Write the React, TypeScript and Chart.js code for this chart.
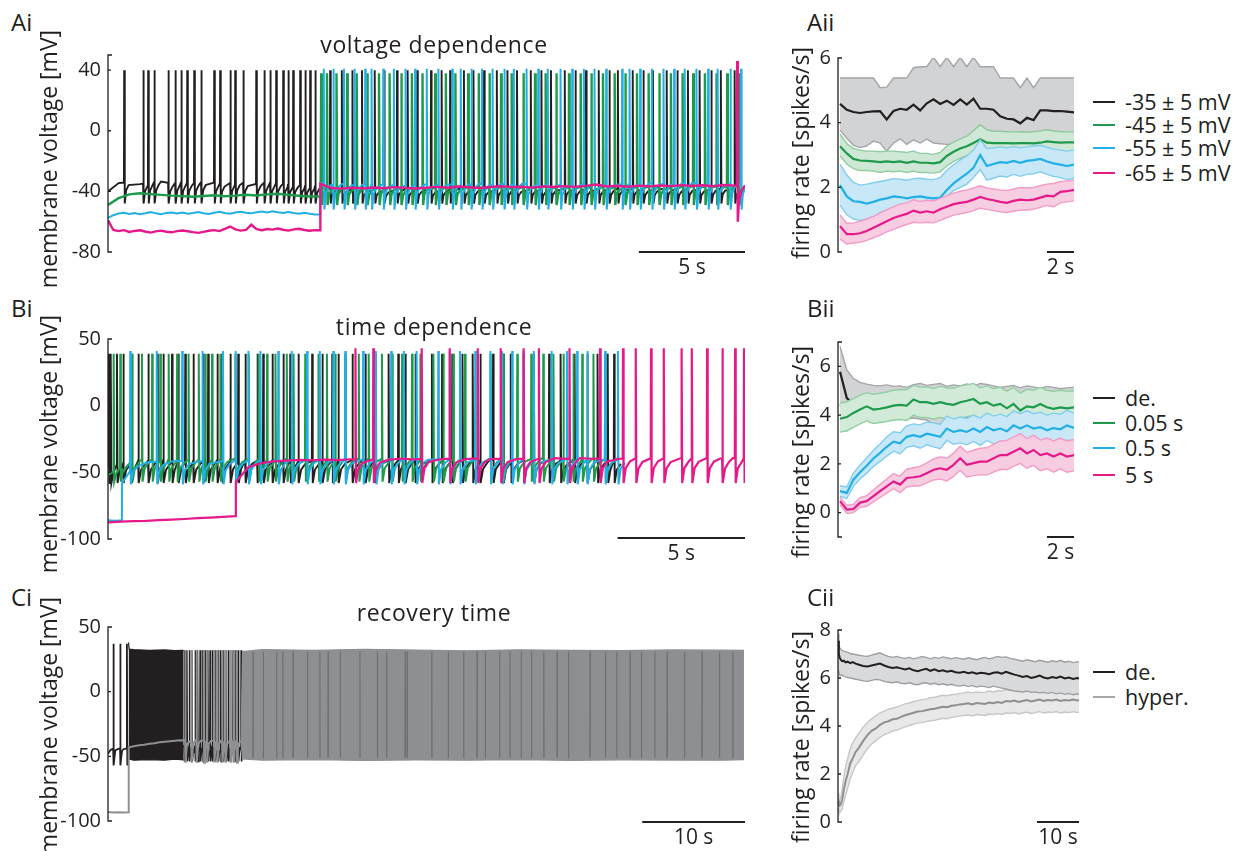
import React, { useEffect, useRef } from "react";
import { Chart, registerables } from "chart.js";

Chart.register(...registerables);

const FONT = '"Open Sans", sans-serif';
const INK = "#231f20";
const GREEN = "#1d9a4b";
const CYAN = "#22afe6";
const MAGENTA = "#e6198b";
const GREY = "#8d8f92";

// ---------------- Ai : voltage dependence (traces) ----------------
const AI_PRE_DT_BG = 0.5; // black / green baseline sample step (s)
const AI_PRE_DT_CM = 0.25; // cyan / magenta baseline sample step (s)
const AI_POST_T0 = 10.0;
const AI_POST_DT = 0.5;
const AI_BLACK_PRE = [-40, -34.5, -33.8, -35.2, -34.0, -33.5, -34.8, -33.9, -34.6, -33.7, -34.2, -35.0, -33.8, -34.5, -35.1, -34.0, -34.7, -35.3, -35.8, -36.2];
const AI_GREEN_PRE = [-49, -44.5, -42, -41.2, -41.8, -42.3, -42.8, -43.1, -43.5, -43.0, -42.6, -43.2, -42.8, -42.2, -42.7, -42.0, -41.6, -42.3, -42.9, -43.4];
const AI_CYAN_PRE = [-57.5, -55.7, -54.6, -54.1, -54.9, -54.3, -55.0, -54.4, -53.7, -54.5, -55.1, -54.2, -53.9, -54.6, -54.0, -54.8, -54.3, -53.6, -54.4, -54.9, -54.1, -53.5, -54.3, -54.7, -54.0, -53.4, -54.1, -54.5, -53.8, -53.3, -53.9, -53.1, -53.7, -54.3, -53.6, -54.2, -54.7, -54.1, -54.8, -55.3];
const AI_MAG_PRE = [-59, -65.5, -66.2, -65.6, -66.8, -66.1, -65.7, -66.5, -67.2, -66.4, -65.9, -66.6, -67.0, -66.2, -65.8, -66.3, -66.9, -67.4, -66.7, -66.0, -65.6, -66.2, -64.8, -63.2, -65.1, -65.9, -65.4, -62.0, -64.9, -65.6, -64.8, -65.2, -64.5, -65.3, -65.9, -65.1, -64.7, -65.5, -66.0, -65.6];
const AI_BLACK_POST = [-36.0, -38.5, -39.2, -38.6, -39.4, -38.8, -39.6, -39.0, -38.4, -39.2, -38.7, -39.5, -38.9, -38.3, -39.1, -38.6, -39.3, -38.8, -38.2, -39.0, -38.5, -39.2, -38.7, -38.1, -38.9, -38.4, -39.1, -38.6, -38.0, -38.8, -38.3, -39.0, -38.5, -38.0, -38.7, -38.2, -38.9, -38.4, -37.9, -38.6, -38.2];
const AI_GREEN_POST = [-36.5, -37.8, -37.2, -38.0, -37.4, -37.9, -37.1, -37.7, -38.2, -37.5, -37.0, -37.8, -37.3, -37.9, -37.2, -36.8, -37.6, -37.1, -37.7, -37.0, -37.5, -36.9, -37.4, -37.8, -37.1, -36.7, -37.3, -36.9, -37.5, -36.8, -37.2, -36.6, -37.1, -37.6, -36.9, -36.5, -37.0, -36.7, -37.2, -36.6, -36.9];
const AI_CYAN_POST = [-34.5, -35.8, -35.2, -36.0, -35.4, -35.9, -35.1, -35.7, -36.2, -35.5, -35.0, -35.8, -35.3, -35.9, -35.2, -34.8, -35.6, -35.1, -35.7, -35.0, -35.5, -34.9, -35.4, -35.8, -35.1, -34.7, -35.3, -34.9, -35.5, -34.8, -35.2, -34.6, -35.1, -35.6, -34.9, -34.5, -35.0, -34.7, -35.2, -34.6, -34.9];
const AI_MAG_POST = [-35.0, -37.8, -38.2, -37.6, -38.0, -37.4, -37.9, -37.2, -37.7, -38.1, -37.5, -37.0, -37.6, -36.8, -37.3, -37.8, -37.1, -36.6, -37.2, -36.9, -37.5, -36.7, -37.1, -36.5, -37.0, -36.4, -35.5, -36.8, -36.3, -36.9, -36.2, -36.7, -36.1, -36.5, -35.9, -36.4, -36.0, -36.6, -35.8, -36.2, -36.0];
const AI_BLACK_SPIKES = [0.75, 1.65, 1.88, 2.17, 2.83, 3.16, 3.44, 3.72, 4.05, 4.38, 4.99, 5.27, 5.75, 5.98, 6.36, 6.97, 7.35, 7.63, 7.91, 8.24, 8.48, 8.71, 9.04, 9.28, 9.51, 9.75, 10.45, 11.0, 11.5, 11.95, 12.55, 13.0, 13.6, 14.1, 14.55, 15.2, 15.7, 16.1, 16.75, 17.2, 17.7, 18.3, 18.8, 19.25, 19.9, 20.4, 20.85, 21.5, 22.0, 22.5, 23.1, 23.6, 24.0, 24.7, 25.2, 25.65, 26.3, 26.8, 27.3, 27.85, 28.4, 28.85, 29.5];
const AI_GREEN_SPIKES = [10.03, 10.3, 10.75, 11.25, 11.7, 12.2, 12.75, 13.25, 13.8, 14.3, 14.8, 15.4, 15.9, 16.35, 16.95, 17.45, 17.95, 18.5, 19.0, 19.55, 20.1, 20.6, 21.1, 21.7, 22.25, 22.75, 23.3, 23.85, 24.35, 24.9, 25.45, 25.95, 26.5, 27.05, 27.55, 28.1, 28.65, 29.15, 29.7];
const AI_CYAN_SPIKES = [10.15, 10.6, 11.1, 11.6, 12.1, 12.4, 12.95, 13.45, 14.0, 14.45, 15.0, 15.55, 16.2, 16.6, 17.1, 17.6, 18.1, 18.65, 19.1, 19.7, 20.25, 20.7, 21.3, 21.85, 22.4, 22.9, 23.45, 24.2, 24.55, 25.05, 25.6, 26.15, 26.65, 27.15, 27.7, 28.25, 28.7, 29.3, 29.8];
const AI_MAG_SPIKES = [29.62];
const AI_Y_TICKS = [40, 0, -40, -80];

// ---------------- Bi : time dependence (traces) ----------------
const BI_BLACK_BASE = [-46, -41.5, -41.0, -41.8, -41.2, -40.6, -41.4, -40.9, -41.6, -41.1, -40.5, -41.3, -40.8, -41.5, -41.0, -40.4, -41.2, -40.7, -41.4, -40.9, -41.3];
const BI_GREEN_BASE = [-52, -40.5, -40.0, -40.8, -40.2, -39.6, -40.4, -39.9, -40.6, -40.1, -39.5, -40.3, -39.8, -40.5, -40.0, -39.4, -40.2, -39.7, -40.4, -39.9, -40.3];
const BI_CYAN_HYP = [-86, -86.4, -86.1];
const BI_CYAN_BASE = [-58, -44, -42.5, -42, -41.6, -41.2, -41.8, -41.0, -41.5, -40.8, -41.3, -40.6, -41.1, -40.5, -41.0, -40.4, -40.9, -40.3, -40.8, -40.2, -40.7, -40.1, -40.6, -40.0, -40.5, -40.1, -40.6, -40.0, -40.4, -39.9, -40.5, -40.0, -40.4, -39.8, -40.3, -39.9, -40.4, -39.8, -40.2, -39.9];
const BI_MAG_HYP = [-87.5, -87, -86.6, -86.4, -85.8, -85.4, -85, -84.4, -84, -83.4, -82.8];
const BI_MAG_BASE = [-57, -46, -43, -41.8, -41.2, -40.6, -41.0, -40.4, -40.8, -40.2, -40.6, -40.0, -40.5, -39.8, -40.3, -39.7, -40.2, -39.6, -40.1, -39.5, -40.0, -39.6, -40.1, -39.5, -39.9, -39.4, -39.9, -39.3, -39.8, -39.4, -39.9, -39.3, -39.7, -39.2, -39.8, -39.3, -39.7, -39.2, -39.6, -39.3, -39.5];
const BI_BLACK_SPIKES = [0.02, 0.06, 0.1, 0.34, 0.59, 0.9, 1.18, 1.57, 1.92, 2.16, 2.5, 2.75, 3.02, 3.34, 3.73, 3.92, 4.28, 4.47, 4.79, 5.1, 5.38, 5.85, 6.08, 6.44, 6.87, 7.14, 7.46, 8.0, 8.4, 8.79, 9.03, 9.58, 10.09, 10.48, 11.0, 11.38, 11.66, 12.05, 12.7, 13.1, 13.5, 13.9, 14.3, 14.6, 15.1, 15.5, 15.8, 16.3, 16.7, 17.3, 17.75, 18.3, 18.8, 19.2, 19.6, 19.85];
const BI_GREEN_SPIKES = [0.21, 0.47, 0.93, 1.32, 1.72, 2.04, 2.37, 2.7, 3.15, 3.55, 3.81, 4.07, 4.4, 4.99, 5.51, 5.9, 6.23, 6.56, 7.01, 7.27, 7.73, 8.25, 8.58, 8.91, 9.3, 9.83, 10.22, 10.74, 11.14, 11.53, 11.92, 12.25, 12.76, 13.15, 13.54, 14.0, 14.5, 15.0, 15.5, 16.05, 16.6, 17.07, 17.47, 17.86, 18.25, 18.6, 19.04, 19.5];
const BI_CYAN_SPIKES = [0.86, 1.9, 2.9, 3.7, 4.5, 5.0, 5.5, 5.97, 6.67, 7.2, 7.8, 8.3, 8.83, 9.3, 10.0, 10.5, 11.1, 11.6, 12.1, 12.95, 13.4, 13.8, 14.4, 15.0, 15.45, 15.85, 16.3, 16.7, 17.4, 18.0, 18.4, 18.8, 19.5, 20.0];
const BI_MAG_SPIKES = [9.7, 10.4, 12.3, 13.4, 14.5, 15.4, 16.3, 16.9, 18.1, 19.3, 20.2, 20.7, 21.3, 21.8, 22.5, 22.9, 23.5, 24.1, 24.6, 24.95];
const BI_Y_TICKS = [50, 0, -50, -100];

// ---------------- Ci : recovery time (traces) ----------------
const CI_BLACK_PRE = [-48, -45, -44, -43.5, -44.2, -43.8, -44.5, -44.0, -43.6];
const CI_BLACK_PRE_SPIKES = [0.52, 1.17, 1.82];
const CI_BLACK_ENV_T = [2.0, 2.06, 2.5, 4, 5.5, 6.5, 7.35];
const CI_BLACK_ENV_TOP = [38, 33, 32.5, 32, 32.3, 31.8, 32];
const CI_BLACK_ENV_BOT = [-42, -52, -53, -52.5, -53, -52.2, -52.8];
const CI_BLACK_MID = [-42, -41.5, -42.2, -41.8, -42.5, -41.6, -42.0, -41.7, -42.3, -41.9, -42.1, -41.6, -42.0];
const CI_BLACK_MID_SPIKES = [7.4, 7.66, 7.9, 8.15, 8.47, 8.7, 8.95, 9.2, 9.44, 9.7, 9.92, 10.15, 10.41, 10.7, 10.95, 11.19, 11.45, 11.68, 11.9, 12.16, 12.4, 12.65, 12.94];
const CI_GREY_HYP = [-93, -93.4, -93.2, -93.5, -93.3];
const CI_GREY_BASE = [-43, -42.2, -41.5, -41.0, -40.3, -39.8, -39.2, -38.8, -38.4, -38.0, -37.6, -37.8, -38.2, -37.5, -38, -37.6, -38.1, -37.7, -38.0, -37.6, -37.8, -37.5, -38.0];
const CI_GREY_SPIKES = [7.5, 8.1, 8.6, 9.3, 9.6, 10.3, 10.6, 11.1, 11.4, 11.9, 12.2, 12.5];
const CI_GREY_ENV_T = [12.95, 13.1, 15, 20, 25, 30, 35, 40, 45, 50, 55, 60, 61.9];
const CI_GREY_ENV_TOP = [-38, 31, 32.5, 32, 32.8, 32.2, 31.6, 32.4, 32, 31.8, 32.3, 32.1, 31.9];
const CI_GREY_ENV_BOT = [-38, -52, -53, -52.5, -53.2, -52.8, -53, -52.6, -53.1, -52.7, -52.9, -53, -52.5];
const CI_DARK_SPIKES = [14.1, 15.1, 16.4, 17.0, 18.0, 19.4, 20.6, 21.4, 22.6, 24.5, 26.2, 27.1, 28.9, 29.1, 31.5, 33.1, 34.6, 35.9, 36.7, 38.1, 39.1, 40.2, 41.2, 42.4, 43.7, 44.8, 46.9, 48.4, 49.5, 50.8, 51.9, 53.2, 54.4, 56.1, 57.8, 59.5, 60.8];
const CI_Y_TICKS = [50, 0, -50, -100];

// ---------------- Aii / Bii : firing rates ----------------
const T_RATE = [0.15, 0.65, 1.14, 1.63, 2.12, 2.62, 3.11, 3.6, 4.1, 4.59, 5.08, 5.58, 6.07, 6.56, 7.06, 7.55, 8.04, 8.54, 9.03, 9.52, 10.01, 10.51, 11.0, 11.49, 11.99, 12.48, 12.97, 13.47, 13.96, 14.45, 14.95, 15.44, 15.93, 16.43, 16.92, 17.44];
const AII_BLACK = [4.58, 4.40, 4.33, 4.30, 4.33, 4.35, 4.36, 4.10, 4.36, 4.43, 4.40, 4.56, 4.38, 4.60, 4.72, 4.58, 4.68, 4.55, 4.72, 4.56, 4.74, 4.43, 4.43, 4.40, 4.20, 4.12, 4.10, 3.98, 4.15, 4.08, 4.38, 4.38, 4.36, 4.36, 4.34, 4.32];
const AII_BLACK_HI = [5.38, 5.38, 5.38, 5.38, 5.38, 5.38, 5.08, 5.10, 5.38, 5.38, 5.38, 5.70, 5.73, 5.73, 6.02, 5.73, 6.02, 5.73, 6.02, 5.73, 6.02, 5.73, 5.73, 5.73, 5.38, 5.38, 5.38, 5.08, 5.38, 5.08, 5.38, 5.38, 5.38, 5.38, 5.38, 5.38];
const AII_BLACK_LO = [3.77, 3.52, 3.30, 3.23, 3.28, 3.43, 3.37, 3.12, 3.37, 3.50, 3.33, 3.47, 3.37, 3.49, 3.37, 3.35, 3.33, 3.33, 3.45, 3.58, 3.75, 3.93, 3.78, 3.73, 3.73, 3.72, 3.72, 3.72, 3.70, 3.72, 3.74, 3.78, 3.74, 3.72, 3.72, 3.72];
const AII_GREEN = [3.27, 3.05, 2.88, 2.83, 2.82, 2.80, 2.78, 2.80, 2.78, 2.80, 2.76, 2.80, 2.76, 2.76, 2.74, 2.78, 2.97, 3.10, 3.20, 3.27, 3.37, 3.49, 3.38, 3.37, 3.37, 3.37, 3.36, 3.37, 3.37, 3.36, 3.38, 3.42, 3.40, 3.38, 3.39, 3.39];
const AII_GREEN_HI = [3.65, 3.35, 3.20, 3.15, 3.12, 3.12, 3.10, 3.12, 3.12, 3.10, 3.08, 3.12, 3.05, 3.05, 3.02, 3.08, 3.28, 3.40, 3.50, 3.58, 3.75, 3.93, 3.78, 3.73, 3.73, 3.72, 3.72, 3.72, 3.70, 3.72, 3.74, 3.78, 3.74, 3.72, 3.72, 3.72];
const AII_GREEN_LO = [2.97, 2.72, 2.58, 2.52, 2.52, 2.50, 2.46, 2.50, 2.48, 2.50, 2.46, 2.50, 2.46, 2.46, 2.44, 2.48, 2.66, 2.80, 2.90, 2.98, 3.08, 3.20, 3.05, 3.02, 3.02, 3.02, 3.00, 3.02, 3.02, 3.00, 3.04, 3.08, 3.06, 3.04, 3.05, 3.06];
const AII_CYAN = [2.07, 1.72, 1.57, 1.55, 1.50, 1.55, 1.62, 1.66, 1.72, 1.70, 1.66, 1.70, 1.72, 1.68, 1.66, 1.68, 1.92, 2.12, 2.28, 2.42, 2.60, 3.00, 2.66, 2.72, 2.78, 2.76, 2.82, 2.76, 2.82, 2.84, 2.88, 2.80, 2.74, 2.70, 2.66, 2.70];
const AII_CYAN_HI = [2.72, 2.38, 2.15, 2.07, 2.10, 2.14, 2.18, 2.22, 2.27, 2.25, 2.22, 2.27, 2.28, 2.25, 2.24, 2.30, 2.52, 2.70, 2.85, 2.97, 3.15, 3.47, 3.20, 3.22, 3.25, 3.22, 3.26, 3.22, 3.25, 3.28, 3.30, 3.24, 3.18, 3.15, 3.12, 3.15];
const AII_CYAN_LO = [1.45, 1.15, 1.02, 0.98, 1.02, 1.10, 1.22, 1.30, 1.38, 1.42, 1.45, 1.50, 1.55, 1.56, 1.58, 1.60, 1.72, 1.90, 2.00, 2.10, 2.30, 2.55, 2.22, 2.28, 2.35, 2.32, 2.40, 2.34, 2.40, 2.42, 2.48, 2.40, 2.34, 2.30, 2.24, 2.28];
const AII_MAG = [0.80, 0.55, 0.55, 0.58, 0.65, 0.75, 0.85, 0.95, 1.05, 1.12, 1.18, 1.28, 1.22, 1.26, 1.22, 1.32, 1.40, 1.48, 1.52, 1.55, 1.62, 1.70, 1.64, 1.60, 1.55, 1.52, 1.58, 1.62, 1.60, 1.62, 1.68, 1.74, 1.72, 1.86, 1.88, 1.92];
const AII_MAG_HI = [1.15, 0.88, 0.90, 0.95, 1.02, 1.10, 1.20, 1.30, 1.40, 1.48, 1.52, 1.62, 1.56, 1.60, 1.58, 1.66, 1.74, 1.82, 1.88, 1.92, 1.98, 2.05, 1.98, 1.95, 1.92, 1.90, 1.95, 2.00, 1.98, 2.00, 2.05, 2.10, 2.12, 2.18, 2.20, 2.22];
const AII_MAG_LO = [0.40, 0.25, 0.28, 0.30, 0.36, 0.44, 0.52, 0.62, 0.70, 0.78, 0.85, 0.92, 0.90, 0.92, 0.90, 0.98, 1.06, 1.14, 1.18, 1.22, 1.28, 1.36, 1.32, 1.28, 1.24, 1.22, 1.26, 1.30, 1.30, 1.32, 1.38, 1.44, 1.40, 1.52, 1.55, 1.58];
const AII_Y_TICKS = [6, 4, 2, 0];

const BII_BLACK = [5.78, 4.70, 4.45, 4.5, 4.52, 4.5, 4.55, 4.52, 4.5, 4.55, 4.52, 4.6, 4.55, 4.55, 4.5, 4.55, 4.5, 4.48, 4.55, 4.58, 4.6, 4.5, 4.55, 4.45, 4.5, 4.4, 4.5, 4.35, 4.45, 4.42, 4.5, 4.42, 4.4, 4.42, 4.4, 4.42];
const BII_BLACK_HI = [6.82, 5.85, 5.5, 5.34, 5.27, 5.22, 5.2, 5.24, 5.18, 5.2, 5.14, 5.25, 5.3, 5.22, 5.26, 5.3, 5.18, 5.24, 5.2, 5.28, 5.18, 5.3, 5.26, 5.2, 5.14, 5.18, 5.22, 5.12, 5.2, 5.16, 5.1, 5.18, 5.14, 5.08, 5.12, 5.14];
const BII_BLACK_LO = [4.46, 3.35, 3.6, 3.75, 3.8, 3.85, 3.82, 3.88, 3.85, 3.9, 3.86, 3.88, 3.84, 3.8, 3.62, 3.65, 3.62, 3.7, 3.85, 3.9, 3.95, 3.92, 3.95, 3.9, 3.92, 3.95, 3.9, 3.88, 3.92, 3.95, 3.9, 3.92, 3.9, 3.88, 3.92, 3.9];
const BII_GREEN = [3.85, 3.92, 4.09, 4.23, 4.36, 4.23, 4.26, 4.32, 4.39, 4.42, 4.39, 4.64, 4.53, 4.53, 4.46, 4.53, 4.46, 4.42, 4.53, 4.59, 4.66, 4.46, 4.53, 4.39, 4.46, 4.28, 4.46, 4.19, 4.36, 4.32, 4.46, 4.32, 4.26, 4.32, 4.28, 4.32];
const BII_GREEN_HI = [4.5, 4.55, 4.68, 4.82, 4.92, 4.85, 4.9, 4.95, 5.02, 5.05, 5.04, 5.22, 5.15, 5.16, 5.1, 5.18, 5.12, 5.1, 5.2, 5.24, 5.3, 5.12, 5.2, 5.08, 5.14, 4.98, 5.14, 4.9, 5.06, 5.02, 5.14, 5.02, 4.98, 5.02, 4.98, 5.0];
const BII_GREEN_LO = [3.3, 3.36, 3.5, 3.64, 3.76, 3.66, 3.7, 3.74, 3.8, 3.82, 3.78, 4.0, 3.9, 3.9, 3.84, 3.9, 3.84, 3.8, 3.88, 3.94, 4.0, 3.82, 3.88, 3.74, 3.8, 3.62, 3.8, 3.52, 3.7, 3.66, 3.8, 3.66, 3.6, 3.66, 3.62, 3.66];
const BII_CYAN = [0.88, 0.81, 1.35, 1.66, 1.92, 2.22, 2.45, 2.70, 2.91, 2.84, 3.11, 3.18, 3.11, 3.24, 3.18, 3.11, 3.45, 3.31, 3.38, 3.31, 3.45, 3.31, 3.51, 3.38, 3.45, 3.34, 3.58, 3.45, 3.58, 3.45, 3.51, 3.38, 3.47, 3.42, 3.58, 3.47];
const BII_CYAN_HI = [1.1, 1.05, 1.62, 1.95, 2.24, 2.56, 2.82, 3.1, 3.32, 3.28, 3.56, 3.64, 3.6, 3.72, 3.68, 3.62, 3.96, 3.84, 3.92, 3.86, 4.0, 3.88, 4.08, 3.96, 4.04, 3.94, 4.18, 4.06, 4.18, 4.06, 4.12, 4.0, 4.08, 4.04, 4.2, 4.08];
const BII_CYAN_LO = [0.66, 0.58, 1.08, 1.38, 1.62, 1.9, 2.1, 2.32, 2.52, 2.42, 2.68, 2.74, 2.64, 2.78, 2.7, 2.62, 2.96, 2.8, 2.86, 2.78, 2.92, 2.76, 2.96, 2.82, 2.88, 2.76, 3.0, 2.86, 3.0, 2.86, 2.92, 2.78, 2.88, 2.82, 2.98, 2.88];
const BII_MAG = [0.47, 0.12, 0.15, 0.41, 0.47, 0.68, 0.88, 1.08, 1.28, 1.15, 1.42, 1.45, 1.49, 1.62, 1.76, 1.82, 1.76, 1.96, 2.23, 1.96, 2.03, 2.09, 2.09, 2.23, 2.36, 2.36, 2.50, 2.64, 2.43, 2.57, 2.36, 2.43, 2.30, 2.43, 2.30, 2.36];
const BII_MAG_HI = [0.62, 0.3, 0.34, 0.62, 0.7, 0.94, 1.16, 1.38, 1.6, 1.5, 1.78, 1.84, 1.9, 2.04, 2.2, 2.28, 2.24, 2.44, 2.72, 2.48, 2.56, 2.64, 2.66, 2.8, 2.94, 2.96, 3.1, 3.24, 3.04, 3.18, 2.98, 3.06, 2.94, 3.06, 2.94, 3.0];
const BII_MAG_LO = [0.32, -0.04, 0.0, 0.22, 0.26, 0.44, 0.62, 0.8, 0.98, 0.82, 1.06, 1.08, 1.1, 1.22, 1.34, 1.38, 1.3, 1.48, 1.74, 1.46, 1.52, 1.56, 1.54, 1.66, 1.78, 1.76, 1.9, 2.02, 1.82, 1.94, 1.72, 1.8, 1.66, 1.8, 1.66, 1.72];
const BII_Y_TICKS = [6, 4, 2, 0];

// ---------------- Cii : recovery firing rates ----------------
const CII_T = [0, 0.2, 0.4, 0.7, 1.0, 1.4, 1.8, 2.3, 2.9, 3.5, 4.2, 5, 6, 7, 8, 9, 10, 11, 12, 13, 14, 15, 16, 17, 18, 19, 20, 21, 22, 23, 24, 25, 26, 27, 28, 29, 30, 31, 32, 33, 34, 35, 36, 37, 38, 39, 40, 41, 42, 43, 44, 45, 46, 47, 48, 49, 50, 51, 52, 53, 54, 55, 56, 57, 57.4];
const CII_DE = [7.55, 7.0, 6.85, 6.75, 6.7, 6.72, 6.65, 6.68, 6.62, 6.66, 6.6, 6.55, 6.5, 6.48, 6.52, 6.56, 6.6, 6.52, 6.46, 6.42, 6.45, 6.4, 6.36, 6.4, 6.32, 6.28, 6.34, 6.38, 6.3, 6.36, 6.28, 6.32, 6.26, 6.3, 6.24, 6.22, 6.26, 6.2, 6.24, 6.18, 6.22, 6.2, 6.16, 6.22, 6.24, 6.18, 6.26, 6.2, 6.14, 6.1, 6.04, 6.08, 6.0, 6.04, 6.1, 6.02, 5.98, 6.04, 6.0, 6.06, 5.98, 6.02, 5.96, 6.0, 5.98];
const CII_DE_HI = [7.85, 7.4, 7.25, 7.2, 7.15, 7.12, 7.1, 7.08, 7.02, 7.0, 6.98, 6.95, 6.92, 6.9, 6.95, 7.0, 7.05, 6.96, 6.9, 6.86, 6.9, 6.85, 6.82, 6.86, 6.8, 6.84, 6.9, 6.86, 6.8, 6.86, 6.82, 6.88, 6.84, 6.8, 6.85, 6.82, 6.78, 6.84, 6.8, 6.76, 6.82, 6.86, 6.8, 6.84, 6.9, 6.86, 6.88, 6.82, 6.78, 6.74, 6.7, 6.76, 6.72, 6.68, 6.74, 6.7, 6.66, 6.72, 6.68, 6.74, 6.66, 6.7, 6.64, 6.68, 6.66];
const CII_DE_LO = [6.3, 6.2, 6.15, 6.1, 6.12, 6.08, 6.05, 6.02, 6.0, 5.98, 5.95, 5.92, 5.88, 5.86, 5.9, 5.94, 5.92, 5.86, 5.82, 5.8, 5.84, 5.78, 5.76, 5.8, 5.74, 5.72, 5.78, 5.8, 5.74, 5.78, 5.72, 5.76, 5.7, 5.74, 5.68, 5.66, 5.7, 5.64, 5.68, 5.62, 5.66, 5.64, 5.6, 5.66, 5.62, 5.58, 5.54, 5.5, 5.46, 5.44, 5.42, 5.46, 5.4, 5.42, 5.38, 5.4, 5.36, 5.4, 5.34, 5.38, 5.32, 5.36, 5.3, 5.34, 5.32];
const CII_HY = [0.9, 0.72, 0.68, 0.75, 0.95, 1.36, 1.7, 2.0, 2.44, 2.65, 2.92, 3.1, 3.38, 3.62, 3.8, 3.9, 4.05, 4.15, 4.2, 4.28, 4.3, 4.38, 4.45, 4.5, 4.55, 4.6, 4.62, 4.66, 4.7, 4.72, 4.76, 4.8, 4.78, 4.84, 4.86, 4.9, 4.92, 4.95, 4.9, 4.96, 4.94, 4.92, 4.98, 4.95, 5.0, 4.96, 5.04, 5.02, 5.06, 5.0, 5.04, 5.08, 5.02, 5.06, 5.1, 5.04, 5.08, 5.06, 5.1, 5.04, 5.08, 5.06, 5.1, 5.06, 5.08];
const CII_HY_HI = [1.2, 0.95, 0.9, 1.05, 1.4, 1.9, 2.3, 2.64, 3.05, 3.3, 3.5, 3.7, 3.95, 4.15, 4.3, 4.42, 4.55, 4.62, 4.7, 4.74, 4.8, 4.86, 4.92, 4.96, 5.02, 5.06, 5.1, 5.12, 5.18, 5.2, 5.24, 5.28, 5.26, 5.3, 5.32, 5.36, 5.38, 5.42, 5.38, 5.42, 5.4, 5.4, 5.46, 5.42, 5.48, 5.46, 5.52, 5.5, 5.54, 5.5, 5.54, 5.58, 5.52, 5.56, 5.6, 5.54, 5.58, 5.56, 5.6, 5.54, 5.58, 5.56, 5.6, 5.56, 5.58];
const CII_HY_LO = [0.6, 0.45, 0.4, 0.45, 0.55, 0.85, 1.1, 1.4, 1.8, 2.05, 2.35, 2.52, 2.8, 3.05, 3.25, 3.38, 3.52, 3.64, 3.7, 3.8, 3.82, 3.9, 3.96, 4.02, 4.08, 4.12, 4.14, 4.18, 4.22, 4.24, 4.28, 4.32, 4.3, 4.36, 4.38, 4.42, 4.44, 4.46, 4.42, 4.48, 4.46, 4.44, 4.5, 4.48, 4.52, 4.48, 4.54, 4.52, 4.56, 4.5, 4.54, 4.58, 4.52, 4.56, 4.6, 4.54, 4.58, 4.56, 4.6, 4.54, 4.58, 4.56, 4.6, 4.56, 4.58];
const CII_Y_TICKS = [8, 6, 4, 2, 0];

// ---------------- helpers ----------------
type Pt = { x: number; y: number | null };
type Seg = { t0: number; dt: number; v: number[] };
type Shape = { rise: number; fall: number; mid: number; late: number; rec: number };

const SHAPE_A: Shape = { rise: 0.012, fall: 0.04, mid: 0.1, late: 0.22, rec: 0.32 };
const SHAPE_B: Shape = { rise: 0.012, fall: 0.035, mid: 0.12, late: 0.28, rec: 0.4 };
const SHAPE_C: Shape = { rise: 0.02, fall: 0.06, mid: 0.14, late: 0.2, rec: 0.24 };

function segPoints(segs: Seg[]): { x: number; y: number }[] {
  const pts: { x: number; y: number }[] = [];
  segs.forEach((s, si) => {
    if (si > 0 && pts.length) pts.push({ x: s.t0 - 0.004, y: pts[pts.length - 1].y });
    s.v.forEach((v, i) => pts.push({ x: s.t0 + i * s.dt, y: v }));
  });
  return pts;
}

function interp(pts: { x: number; y: number }[], t: number): number {
  if (t <= pts[0].x) return pts[0].y;
  for (let i = 1; i < pts.length; i++) {
    if (pts[i].x >= t) {
      const a = pts[i - 1], b = pts[i];
      return a.y + ((b.y - a.y) * (t - a.x)) / (b.x - a.x || 1);
    }
  }
  return pts[pts.length - 1].y;
}

function trace(segs: Seg[], spikes: number[], peak: number, trough: number, sh: Shape): Pt[] {
  const base = segPoints(segs);
  const tEnd = base[base.length - 1].x;
  const sp = spikes.filter((s) => s < tEnd).sort((a, b) => a - b);
  const win = sp.map((s, i) => [s, Math.min(s + sh.rec, i + 1 < sp.length ? sp[i + 1] : Infinity)]);
  const out: Pt[] = [];
  base.forEach((p) => {
    if (!win.some(([a, b]) => p.x >= a && p.x < b)) out.push(p);
  });
  sp.forEach((s, i) => {
    const end = win[i][1];
    const b0 = interp(base, s);
    const bl = interp(base, s + sh.late);
    const tpl: [number, number][] = [
      [0, b0],
      [sh.rise, peak],
      [sh.fall, trough],
      [sh.mid, trough + 0.6 * (bl - trough)],
      [sh.late, trough + 0.86 * (bl - trough)],
    ];
    tpl.forEach(([dt, v]) => {
      if (s + dt < end) out.push({ x: s + dt, y: v });
    });
  });
  out.sort((a, b) => a.x - b.x);
  return out;
}

function zip(t: number[], v: number[]): Pt[] {
  const n = Math.min(t.length, v.length);
  const o: Pt[] = [];
  for (let i = 0; i < n; i++) o.push({ x: t[i], y: v[i] });
  return o;
}

function streaks(times: number[], lo: number, hi: number): Pt[] {
  const o: Pt[] = [];
  times.forEach((t) => {
    o.push({ x: t, y: lo }, { x: t + 0.02, y: hi }, { x: t + 0.04, y: lo }, { x: t + 0.05, y: null });
  });
  return o;
}

function ln(data: Pt[], color: string, width: number, extra: any = {}) {
  return { data, borderColor: color, borderWidth: width, pointRadius: 0, fill: false, tension: 0, spanGaps: false, ...extra };
}

function band(t: number[], hi: number[], lo: number[], fillC: string, edge: string, w = 1.4) {
  return [ln(zip(t, hi), edge, w, { fill: "+1", backgroundColor: fillC }), ln(zip(t, lo), edge, w)];
}

// ---------------- axis + scale bar plugin ----------------
const frame = {
  id: "frame",
  afterDraw(chart: any, _a: any, opts: any) {
    const { ctx, chartArea, scales } = chart;
    const y = scales.y, x = scales.x;
    const x0 = chartArea.left;
    ctx.save();
    ctx.strokeStyle = INK;
    ctx.lineWidth = 1.3;
    ctx.beginPath();
    const yt = y.getPixelForValue(y.max), yb = y.getPixelForValue(y.min);
    ctx.moveTo(x0 + 4, yt);
    ctx.lineTo(x0, yt);
    ctx.lineTo(x0, yb);
    ctx.lineTo(x0 + 4, yb);
    (opts.ticks || []).forEach((v: number) => {
      const py = y.getPixelForValue(v);
      ctx.moveTo(x0, py);
      ctx.lineTo(x0 + 3, py);
    });
    ctx.stroke();
    const xr = x.getPixelForValue(x.max), xl = x.getPixelForValue(x.max - opts.bar);
    const by = chartArea.bottom + (opts.barDy || 0);
    ctx.lineWidth = 2;
    ctx.beginPath();
    ctx.moveTo(xl, by);
    ctx.lineTo(xr, by);
    ctx.stroke();
    ctx.fillStyle = INK;
    ctx.font = `21px ${FONT}`;
    ctx.textAlign = "center";
    ctx.textBaseline = "middle";
    ctx.fillText(opts.label, (xl + xr) / 2, by + 16);
    ctx.restore();
  },
};

type PanelCfg = {
  left: number; top: number; w: number; h: number; yW: number; padT: number; padB: number; padR: number;
  xMax: number; yMin: number; yMax: number; yTicks: number[]; bar: number; barLabel: string; barDy: number;
  datasets: () => any[];
};

function Panel({ cfg }: { cfg: PanelCfg }) {
  const ref = useRef<HTMLCanvasElement>(null);
  useEffect(() => {
    const list = cfg.datasets();
    const n = list.length;
    const datasets = list.map((d, i) => ({ ...d, order: n - i }));
    const chart = new Chart(ref.current as HTMLCanvasElement, {
      type: "line",
      data: { datasets },
      options: {
        animation: false,
        responsive: false,
        devicePixelRatio: 1,
        events: [],
        layout: { padding: { left: 0, right: cfg.padR, top: cfg.padT, bottom: cfg.padB } },
        plugins: {
          legend: { display: false },
          tooltip: { enabled: false },
          frame: { ticks: cfg.yTicks, bar: cfg.bar, label: cfg.barLabel, barDy: cfg.barDy },
        } as any,
        scales: {
          x: { type: "linear", min: 0, max: cfg.xMax, display: false },
          y: {
            type: "linear",
            min: cfg.yMin,
            max: cfg.yMax,
            afterFit: (s: any) => { s.width = cfg.yW; },
            afterBuildTicks: (s: any) => { s.ticks = cfg.yTicks.map((v) => ({ value: v })); },
            grid: { display: false, drawTicks: false },
            border: { display: false },
            ticks: { padding: 7, color: INK, font: { family: FONT, size: 20 } },
          },
        },
      } as any,
      plugins: [frame as any],
    });
    return () => chart.destroy();
  }, []);
  return (
    <canvas
      ref={ref}
      width={cfg.w}
      height={cfg.h}
      style={{ position: "absolute", left: cfg.left, top: cfg.top, width: cfg.w, height: cfg.h }}
    />
  );
}

// ---------------- panel definitions ----------------
const panels: PanelCfg[] = [
  {
    left: 48, top: 36, w: 707, h: 246, yW: 60, padT: 14, padB: 30, padR: 10,
    xMax: 30, yMin: -80, yMax: 50, yTicks: AI_Y_TICKS, bar: 5, barLabel: "5 s", barDy: 0,
    datasets: () => [
      ln(trace([{ t0: 0, dt: AI_PRE_DT_BG, v: AI_BLACK_PRE }, { t0: AI_POST_T0, dt: AI_POST_DT, v: AI_BLACK_POST }], AI_BLACK_SPIKES, 40, -48, SHAPE_A), INK, 1.9),
      ln(trace([{ t0: 0, dt: AI_PRE_DT_BG, v: AI_GREEN_PRE }, { t0: AI_POST_T0, dt: AI_POST_DT, v: AI_GREEN_POST }], AI_GREEN_SPIKES, 38, -49, SHAPE_A), GREEN, 2.4),
      ln(trace([{ t0: 0, dt: AI_PRE_DT_CM, v: AI_CYAN_PRE }, { t0: AI_POST_T0, dt: AI_POST_DT, v: AI_CYAN_POST }], AI_CYAN_SPIKES, 41, -52, SHAPE_A), CYAN, 2),
      ln(trace([{ t0: 0, dt: AI_PRE_DT_CM, v: AI_MAG_PRE }, { t0: AI_POST_T0, dt: AI_POST_DT, v: AI_MAG_POST }], AI_MAG_SPIKES, 46, -60, SHAPE_A), MAGENTA, 2.4),
    ],
  },
  {
    left: 48, top: 320, w: 707, h: 249, yW: 60, padT: 14, padB: 30, padR: 10,
    xMax: 25, yMin: -100, yMax: 50, yTicks: BI_Y_TICKS, bar: 5, barLabel: "5 s", barDy: -1,
    datasets: () => [
      ln(trace([{ t0: 0, dt: 1, v: BI_BLACK_BASE }], BI_BLACK_SPIKES, 39, -58, SHAPE_B), INK, 1.9),
      ln(trace([{ t0: 0, dt: 1, v: BI_GREEN_BASE }], BI_GREEN_SPIKES, 39, -57, SHAPE_B), GREEN, 2),
      ln(trace([{ t0: 0, dt: 0.25, v: BI_CYAN_HYP }, { t0: 0.55, dt: 0.5, v: BI_CYAN_BASE }], BI_CYAN_SPIKES, 41, -59, SHAPE_B), CYAN, 2),
      ln(trace([{ t0: 0, dt: 0.5, v: BI_MAG_HYP }, { t0: 5.02, dt: 0.5, v: BI_MAG_BASE }], BI_MAG_SPIKES, 43, -58, SHAPE_B), MAGENTA, 2.2),
    ],
  },
  {
    left: 48, top: 608, w: 707, h: 243, yW: 60, padT: 14, padB: 30, padR: 10,
    xMax: 62, yMin: -100, yMax: 50, yTicks: CI_Y_TICKS, bar: 10, barLabel: "10 s", barDy: 1,
    datasets: () => [
      ln(trace([{ t0: 0, dt: 0.25, v: CI_BLACK_PRE }], CI_BLACK_PRE_SPIKES, 37, -57, SHAPE_C), INK, 1.8),
      ln(zip(CI_BLACK_ENV_T, CI_BLACK_ENV_TOP), INK, 1.2, { fill: "+1", backgroundColor: INK }),
      ln(zip(CI_BLACK_ENV_T, CI_BLACK_ENV_BOT), INK, 1.2),
      ln(trace([{ t0: 7.3, dt: 0.5, v: CI_BLACK_MID }], CI_BLACK_MID_SPIKES, 32, -54, SHAPE_C), INK, 1.6),
      ln(trace([{ t0: 0, dt: 0.5, v: CI_GREY_HYP }, { t0: 2.02, dt: 0.5, v: CI_GREY_BASE }], CI_GREY_SPIKES, 32, -55, SHAPE_C), GREY, 2),
      ln(zip(CI_GREY_ENV_T, CI_GREY_ENV_TOP), GREY, 1.2, { fill: "+1", backgroundColor: GREY }),
      ln(zip(CI_GREY_ENV_T, CI_GREY_ENV_BOT), GREY, 1.2),
      ln(streaks(CI_DARK_SPIKES, -51, 31), "#6d6e71", 1.1),
    ],
  },
  {
    left: 798, top: 39, w: 286, h: 243, yW: 40, padT: 14, padB: 30, padR: 10,
    xMax: 17.44, yMin: 0, yMax: 6, yTicks: AII_Y_TICKS, bar: 2, barLabel: "2 s", barDy: 0,
    datasets: () => [
      ...band(T_RATE, AII_BLACK_HI, AII_BLACK_LO, "#d2d3d5", "#a3a5a8"),
      ln(zip(T_RATE, AII_BLACK), INK, 2.2),
      ...band(T_RATE, AII_GREEN_HI, AII_GREEN_LO, "#cfe8d5", "#8fcc9f"),
      ln(zip(T_RATE, AII_GREEN), GREEN, 2.2),
      ...band(T_RATE, AII_CYAN_HI, AII_CYAN_LO, "#c8e8f7", "#82cdee"),
      ln(zip(T_RATE, AII_CYAN), CYAN, 2.2),
      ...band(T_RATE, AII_MAG_HI, AII_MAG_LO, "#f7cde1", "#f29cc7"),
      ln(zip(T_RATE, AII_MAG), MAGENTA, 2.2),
    ],
  },
  {
    left: 798, top: 323, w: 286, h: 244, yW: 40, padT: 14, padB: 30, padR: 10,
    xMax: 17.44, yMin: -1, yMax: 7, yTicks: BII_Y_TICKS, bar: 2, barLabel: "2 s", barDy: 0,
    datasets: () => [
      ...band(T_RATE, BII_BLACK_HI, BII_BLACK_LO, "#d2d3d5", "#a3a5a8"),
      ln(zip(T_RATE, BII_BLACK), INK, 2.2),
      ...band(T_RATE, BII_GREEN_HI, BII_GREEN_LO, "#d2ead8", "#92cfa2"),
      ln(zip(T_RATE, BII_GREEN), GREEN, 2.2),
      ...band(T_RATE, BII_CYAN_HI, BII_CYAN_LO, "#c8e8f7", "#82cdee"),
      ln(zip(T_RATE, BII_CYAN), CYAN, 2.2),
      ...band(T_RATE, BII_MAG_HI, BII_MAG_LO, "#f7cde1", "#f29cc7"),
      ln(zip(T_RATE, BII_MAG), MAGENTA, 2.2),
    ],
  },
  {
    left: 798, top: 611, w: 291, h: 240, yW: 40, padT: 14, padB: 29, padR: 10,
    xMax: 57.4, yMin: 0, yMax: 8, yTicks: CII_Y_TICKS, bar: 10, barLabel: "10 s", barDy: 0,
    datasets: () => [
      ...band(CII_T, CII_HY_HI, CII_HY_LO, "#e8e8e9", "#c6c7c9"),
      ln(zip(CII_T, CII_HY), GREY, 2),
      ...band(CII_T, CII_DE_HI, CII_DE_LO, "#d9dadb", "#9d9fa2"),
      ln(zip(CII_T, CII_DE), INK, 2),
    ],
  },
];

// ---------------- static text ----------------
const PANEL_LABELS = [
  { t: "Ai", x: 11, y: 22 }, { t: "Aii", x: 807, y: 22 },
  { t: "Bi", x: 11, y: 308 }, { t: "Bii", x: 807, y: 308 },
  { t: "Ci", x: 11, y: 597 }, { t: "Cii", x: 807, y: 597 },
];
const TITLES = [
  { t: "voltage dependence", x: 434, y: 44 },
  { t: "time dependence", x: 434, y: 326 },
  { t: "recovery time", x: 434, y: 612 },
];
const Y_TITLES = [
  { t: "membrane voltage [mV]", x: 48, y: 159 },
  { t: "membrane voltage [mV]", x: 48, y: 444 },
  { t: "membrane voltage [mV]", x: 48, y: 726 },
  { t: "firing rate [spikes/s]", x: 800, y: 153 },
  { t: "firing rate [spikes/s]", x: 800, y: 452 },
  { t: "firing rate [spikes/s]", x: 800, y: 737 },
];
const LEGENDS = [
  { t: "-35 ± 5 mV", c: INK, y: 102 }, { t: "-45 ± 5 mV", c: GREEN, y: 125 },
  { t: "-55 ± 5 mV", c: CYAN, y: 148 }, { t: "-65 ± 5 mV", c: MAGENTA, y: 173 },
  { t: "de.", c: INK, y: 398 }, { t: "0.05 s", c: GREEN, y: 423 },
  { t: "0.5 s", c: CYAN, y: 448 }, { t: "5 s", c: MAGENTA, y: 475 },
  { t: "de.", c: INK, y: 672 }, { t: "hyper.", c: "#a7a9ac", y: 697 },
];

export default function App() {
  const abs: React.CSSProperties = { position: "absolute", whiteSpace: "nowrap", lineHeight: 1, color: INK };
  return (
    <div style={{ position: "absolute", left: 0, top: 0, width: 1239, height: 851, background: "#fff", overflow: "hidden", fontFamily: FONT }}>
      {panels.map((p, i) => <Panel key={i} cfg={p} />)}
      {PANEL_LABELS.map((l, i) => (
        <div key={"p" + i} style={{ ...abs, left: l.x, top: l.y, fontSize: 24, transform: "translateY(-50%)" }}>{l.t}</div>
      ))}
      {TITLES.map((l, i) => (
        <div key={"t" + i} style={{ ...abs, left: l.x, top: l.y, fontSize: 23, letterSpacing: 0.6, transform: "translate(-50%,-50%)" }}>{l.t}</div>
      ))}
      {Y_TITLES.map((l, i) => (
        <div key={"y" + i} style={{ ...abs, left: l.x, top: l.y, fontSize: 23, transform: "translate(-50%,-50%) rotate(-90deg)" }}>{l.t}</div>
      ))}
      {LEGENDS.map((l, i) => (
        <React.Fragment key={"l" + i}>
          <div style={{ position: "absolute", left: 1093, top: l.y - 1.25, width: 22, height: 2.5, background: l.c }} />
          <div style={{ ...abs, left: 1125, top: l.y, fontSize: 21.5, transform: "translateY(-50%)" }}>{l.t}</div>
        </React.Fragment>
      ))}
    </div>
  );
}
